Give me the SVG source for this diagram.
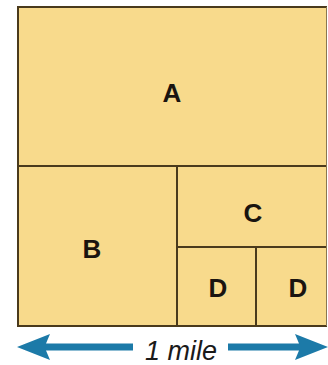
<svg xmlns="http://www.w3.org/2000/svg" width="328" height="365" viewBox="0 0 328 365">
<style>
.plot{fill:#f8da8c;}
.ln{stroke:#4a3a1c;stroke-width:2;fill:none;}
.lbl{font-family:"Liberation Sans",Arial,sans-serif;font-weight:bold;font-size:26px;fill:#1a1410;text-anchor:middle;}
.arr{fill:#1c7aa8;}
.mile{font-family:"Liberation Sans",Arial,sans-serif;font-style:italic;font-size:27px;fill:#1a1a1a;text-anchor:middle;}
</style>
<rect width="328" height="365" fill="#ffffff"/>
<g id="A"><rect class="plot" x="18" y="7" width="309" height="159"/><text class="lbl" x="172" y="102">A</text></g>
<g id="B"><rect class="plot" x="18" y="166" width="159" height="160"/><text class="lbl" x="92" y="258">B</text></g>
<g id="C"><rect class="plot" x="177" y="166" width="150" height="81"/><text class="lbl" x="253" y="222">C</text></g>
<g id="D1"><rect class="plot" x="177" y="247" width="79" height="79"/><text class="lbl" x="218" y="297">D</text></g>
<g id="D2"><rect class="plot" x="256" y="247" width="71" height="79"/><text class="lbl" x="298" y="297">D</text></g>
<g id="connectors">
<path class="ln" d="M327 7 H18 V326 H327"/>
<path class="ln" d="M18 166 H327 M177 166 V326 M177 247 H327 M256 247 V326"/>
<path class="ln" style="stroke:#8a7650;stroke-width:1" d="M326.5 7 V326"/>
</g>
<g id="scale">
<path class="arr" d="M17 347 L50 334 L46 343.5 H133 V350.5 H46 L50 360 Z"/>
<path class="arr" d="M328 347 L295 334 L299 343.5 H228 V350.5 H299 L295 360 Z"/>
<text class="mile" x="181" y="360">1 mile</text>
</g>
</svg>
